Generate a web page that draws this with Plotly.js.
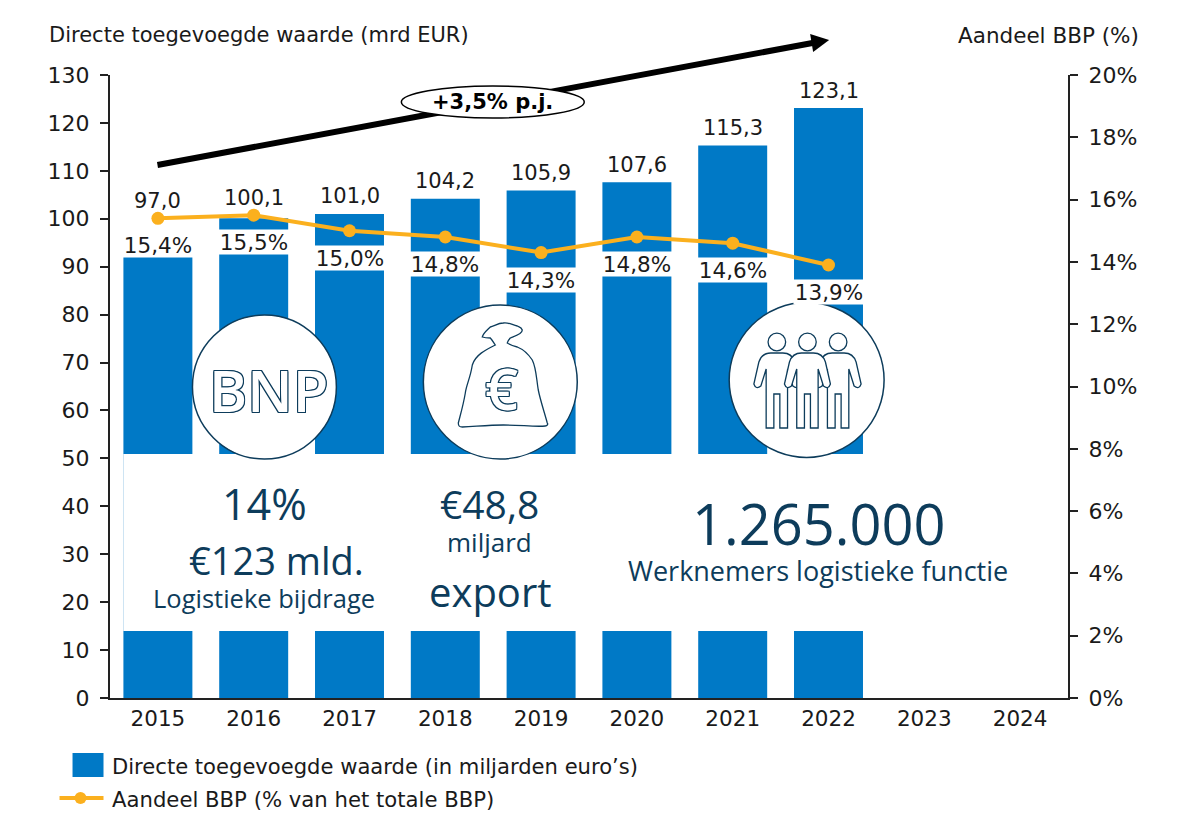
<!DOCTYPE html>
<html>
<head>
<meta charset="utf-8">
<script src="https://cdn.plot.ly/plotly-3.0.1.min.js"></script>
<style>body { margin: 0; background: #fff; }</style>
</head>
<body>
<div id="plot" style="width:1197px;height:838px"></div>
<script>
'use strict';

const years = ['2015', '2016', '2017', '2018', '2019', '2020', '2021', '2022', '2023', '2024'];
const addedValue = [97.0, 100.1, 101.0, 104.2, 105.9, 107.6, 115.3, 123.1, null, null];
const gdpShare = [15.4, 15.5, 15.0, 14.8, 14.3, 14.8, 14.6, 13.9, null, null];
const leftTicks = [0, 10, 20, 30, 40, 50, 60, 70, 80, 90, 100, 110, 120, 130];
const rightTicks = [0, 2, 4, 6, 8, 10, 12, 14, 16, 18, 20];

const BLUE = '#0079C6';
const ORANGE = '#FBB01E';
const NAVY = '#0D3C5B';
const INK = '#1A1A1A';
const FONT = 'DejaVu Sans';
const INFO_FONT = 'Open Sans';

// plot area in page pixels
const L = 109.5, R = 1068, T = 75, B = 698;
const px = x => (x - L) / (R - L);
const py = y => (B - y) / (B - T);
const comma = (v, d) => v.toFixed(d).replace('.', ',');

// path with page pixel coordinates -> paper coordinates
function toPaper(path) {
  return path.replace(/(-?[\d.]+),(-?[\d.]+)/g, (m, x, y) => px(+x) + ',' + py(+y));
}

function circle(cx, cy, r, fill, width) {
  return {
    type: 'circle', xref: 'paper', yref: 'paper', layer: 'above',
    x0: px(cx - r), x1: px(cx + r), y0: py(cy + r), y1: py(cy - r),
    fillcolor: fill, line: {color: NAVY, width: width}
  };
}

function outline(d, fill) {
  return {
    type: 'path', xref: 'paper', yref: 'paper', layer: 'above', path: toPaper(d),
    fillcolor: fill || 'rgba(0,0,0,0)', line: {color: NAVY, width: 1.3}
  };
}

function personPath(c) {
  return 'M' + (c - 10.7) + ',428 L' + (c - 10.7) + ',369 L' + (c - 16) + ',386 ' +
    'Q' + (c - 21) + ',390 ' + (c - 23) + ',384 L' + (c - 18) + ',362 ' +
    'Q' + (c - 15) + ',353 ' + (c - 6) + ',353 L' + (c + 6) + ',353 ' +
    'Q' + (c + 15) + ',353 ' + (c + 18) + ',362 L' + (c + 23) + ',384 ' +
    'Q' + (c + 21) + ',390 ' + (c + 16) + ',386 L' + (c + 10.7) + ',369 ' +
    'L' + (c + 10.7) + ',428 L' + (c + 3) + ',428 L' + (c + 3) + ',394 ' +
    'L' + (c - 3) + ',394 L' + (c - 3) + ',428 Z';
}

const bagPath = 'M495,345 C485,350 475,355 472,365 C470,378 466,385 465,393 ' +
  'C463,405 460,415 458,423 C458,427 460,427 462,427 C480,426 490,425 503,425 ' +
  'C520,425 535,427 545,426 C547,426 548,424 547,423 C544,412 540,400 538,390 ' +
  'C536,378 536,368 532,360 C528,354 522,349 517,347 C513,346 510,345 507,343 ' +
  'C508,340 509,339 510,338 C515,336 522,334 522,330 C521,327 519,327 517,326 ' +
  'C512,325 508,322 503,323 C498,323 494,326 490,327 C487,330 483,333 482,337 ' +
  'C485,338 488,338 490,338 C492,340 493,342 495,345 Z';

const shapes = [
  // white panel cut out of the bars
  {type: 'rect', xref: 'paper', yref: 'paper', layer: 'above',
   x0: px(123), x1: px(1060), y0: py(631), y1: py(454),
   fillcolor: '#FFFFFF', line: {width: 0}},
  {type: 'line', xref: 'paper', yref: 'paper', layer: 'above',
   x0: px(123), x1: px(123), y0: py(631), y1: py(454),
   line: {color: '#CFE4F3', width: 1}},
  // growth arrow and its ellipse
  {type: 'line', xref: 'paper', yref: 'paper', layer: 'above',
   x0: px(157), y0: py(165), x1: px(815), y1: py(42.5),
   line: {color: '#000000', width: 6}},
  {type: 'path', xref: 'paper', yref: 'paper', layer: 'above',
   path: toPaper('M829,40 L810,34 L813,52 Z'), fillcolor: '#000000', line: {width: 0}},
  {type: 'circle', xref: 'paper', yref: 'paper', layer: 'above',
   x0: px(401), x1: px(584), y0: py(118), y1: py(86),
   fillcolor: '#FFFFFF', line: {color: '#000000', width: 1.5}},
  // icon circles
  circle(264, 387, 72, '#FFFFFF', 1.5),
  circle(500, 382, 77, '#FFFFFF', 1.5),
  circle(806.5, 380, 77.5, '#FFFFFF', 1.5),
  outline(bagPath),
  outline(personPath(776.7), '#FFFFFF'),
  outline(personPath(838), '#FFFFFF'),
  outline(personPath(807.3), '#FFFFFF'),
  circle(776.7, 342, 8.8, '#FFFFFF', 1.3),
  circle(807.3, 342, 8.8, '#FFFFFF', 1.3),
  circle(838, 342, 8.8, '#FFFFFF', 1.3),
  // legend swatches
  {type: 'rect', xref: 'paper', yref: 'paper',
   x0: px(72), x1: px(103), y0: py(777), y1: py(753),
   fillcolor: BLUE, line: {width: 0}},
  {type: 'line', xref: 'paper', yref: 'paper',
   x0: px(59), x1: px(103), y0: py(798), y1: py(798),
   line: {color: ORANGE, width: 4}},
  circle(80, 798, 6, ORANGE, 0)
];

function pageText(text, x, y, size, color, family, anchor) {
  return {
    text: text, xref: 'paper', yref: 'paper', x: px(x), y: py(y),
    xanchor: anchor || 'center', yanchor: 'middle', showarrow: false,
    font: {family: family || FONT, size: size, color: color || INK}
  };
}

const annotations = [
  pageText('Directe toegevoegde waarde (mrd EUR)', 46, 35, 21, INK, FONT, 'left'),
  pageText('Aandeel BBP (%)', 1141, 36, 21.5, INK, FONT, 'right'),
  pageText('<b>+3,5% p.j.</b>', 492.5, 102, 21, '#000000'),
  pageText('Directe toegevoegde waarde (in miljarden euro\u2019s)', 110, 766, 21.1, INK, FONT, 'left'),
  pageText('Aandeel BBP (% van het totale BBP)', 110, 800, 21.2, INK, FONT, 'left'),
  pageText('14%', 264, 503, 43, NAVY, INFO_FONT),
  pageText('\u20AC123 mld.', 276, 560, 38, NAVY, INFO_FONT),
  pageText('Logistieke bijdrage', 264, 598, 25.5, NAVY, INFO_FONT),
  pageText('\u20AC48,8', 489, 503, 39, NAVY, INFO_FONT),
  pageText('miljard', 489, 542, 26, NAVY, INFO_FONT),
  pageText('export', 490, 591, 40, NAVY, INFO_FONT),
  pageText('1.265.000', 819, 523, 56, NAVY, INFO_FONT),
  pageText('Werknemers logistieke functie', 818, 570, 27, NAVY, INFO_FONT)
];

// outlined lettering in the icons
const outlineShadow = [[1, 0], [-1, 0], [0, 1], [0, -1], [1, 1], [-1, -1], [1, -1], [-1, 1]]
  .map(o => o[0] + 'px ' + o[1] + 'px 0 ' + NAVY).join(', ');
[['BNP', 268, 389, 58], ['\u20AC', 501, 387, 58]].forEach(t => {
  const a = pageText(t[0], t[1], t[2], t[3], '#FFFFFF', INFO_FONT);
  a.font.shadow = outlineShadow;
  a.font.weight = 600;
  annotations.push(a);
});

years.forEach((year, i) => {
  if (addedValue[i] === null) return;
  // share label on a white band across the bar
  annotations.push({
    text: comma(gdpShare[i], 1) + '%', x: i, y: gdpShare[i], xref: 'x', yref: 'y2',
    yshift: -27, showarrow: false, width: 70, height: 24, bgcolor: '#FFFFFF', borderpad: 0,
    font: {family: FONT, size: 21.5, color: INK}
  });
  // value label sits over the bar or over the line point, whichever is higher
  annotations.push({
    text: comma(addedValue[i], 1), x: i, y: Math.max(addedValue[i], gdpShare[i] * 6.5),
    xref: 'x', yref: 'y', yshift: 17.5, showarrow: false,
    font: {family: FONT, size: 21, color: INK}
  });
});

const axisStyle = {
  showgrid: false, zeroline: false, showline: true, linecolor: '#222222', linewidth: 2,
  ticks: 'outside', ticklen: 8, tickwidth: 2, tickcolor: '#222222',
  tickfont: {family: FONT, size: 22, color: INK}, ticklabelstandoff: 6, fixedrange: true
};

const bars = {
  type: 'bar', x: years, y: addedValue, width: 0.72,
  marker: {color: BLUE, line: {width: 0}}, hoverinfo: 'skip'
};

const line = {
  type: 'scatter', mode: 'lines+markers', x: years, y: gdpShare, yaxis: 'y2',
  line: {color: ORANGE, width: 4}, marker: {color: ORANGE, size: 13}, hoverinfo: 'skip'
};

const layout = {
  width: 1197, height: 838, autosize: false, showlegend: false,
  paper_bgcolor: '#FFFFFF', plot_bgcolor: 'rgba(0,0,0,0)',
  margin: {l: L, r: 1197 - R, t: T, b: 838 - B, pad: 0},
  xaxis: {
    type: 'category', categoryorder: 'array', categoryarray: years, range: [-0.5, 9.5],
    showgrid: false, showline: true, linecolor: '#222222', linewidth: 2, ticks: '',
    tickfont: {family: FONT, size: 21.5, color: INK}, fixedrange: true
  },
  yaxis: Object.assign({range: [0, 130], tickvals: leftTicks}, axisStyle),
  yaxis2: Object.assign({
    range: [0, 20], tickvals: rightTicks, ticktext: rightTicks.map(v => v + '%'),
    overlaying: 'y', side: 'right', anchor: 'x'
  }, axisStyle),
  shapes: shapes,
  annotations: annotations
};

Plotly.newPlot('plot', [bars, line], layout, {displayModeBar: false, responsive: false});
</script>
</body>
</html>
